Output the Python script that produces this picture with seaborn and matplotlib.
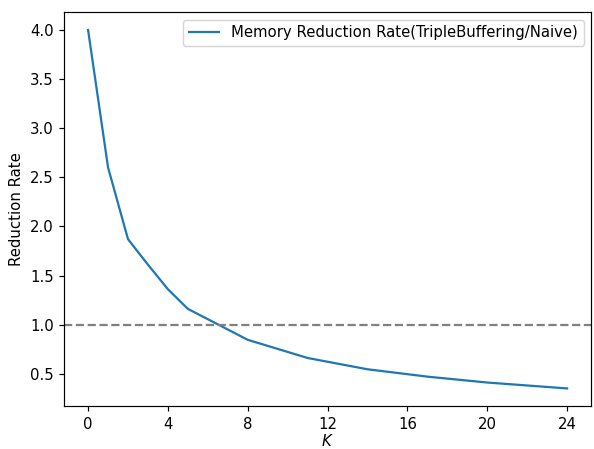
import numpy as np
import pandas as pd
import seaborn as sns
import matplotlib
matplotlib.use('Agg')
import matplotlib.pyplot as plt

k_values = [0, 1, 2, 3, 4, 5, 8, 11, 14, 17, 20, 24]
reduction_rate = [4.0, 2.6, 1.87, 1.61, 1.36, 1.16, 0.845, 0.66, 0.545, 0.47, 0.41, 0.35]
x_ticks = [0, 4, 8, 12, 16, 20, 24]

df = pd.DataFrame({'K': k_values, 'rate': reduction_rate})

dpi = 107
fig, ax = plt.subplots(figsize=(594 / dpi, 449 / dpi), dpi=dpi)
sns.lineplot(data=df, x='K', y='rate', ax=ax,
             label='Memory Reduction Rate(TripleBuffering/Naive)')
ax.axhline(1.0, color='gray', linestyle='--')

ax.set_xticks(x_ticks)
ax.set_xlabel('$K$', labelpad=1)
ax.set_ylabel('Reduction Rate')
ax.legend(loc='upper right')

plt.subplots_adjust(left=0.108, right=0.995, top=0.973, bottom=0.095)
plt.savefig('out.png', dpi=dpi)
